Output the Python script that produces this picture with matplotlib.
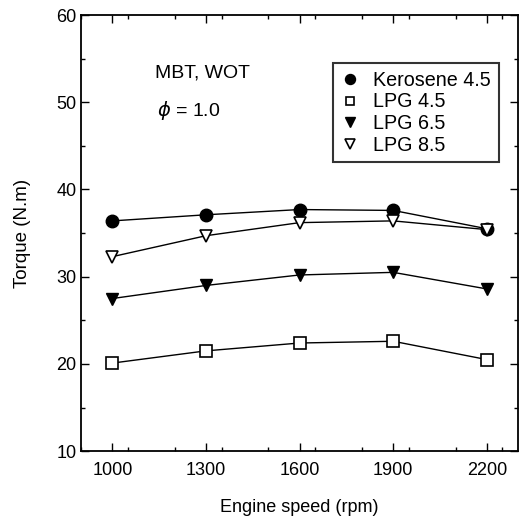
import matplotlib
matplotlib.use("Agg")
import matplotlib.pyplot as plt
from matplotlib.ticker import MultipleLocator

plt.rcParams['font.family'] = ['Liberation Sans', 'DejaVu Sans']

speed = [1000, 1300, 1600, 1900, 2200]
kerosene_45 = [36.4, 37.1, 37.7, 37.6, 35.5]
lpg_45 = [20.1, 21.5, 22.4, 22.6, 20.5]
lpg_65 = [27.5, 29.0, 30.2, 30.5, 28.6]
lpg_85 = [32.3, 34.7, 36.2, 36.4, 35.4]
labels = ["Kerosene 4.5", "LPG 4.5", "LPG 6.5", "LPG 8.5"]
xticks = [1000, 1300, 1600, 1900, 2200]
yticks = [10, 20, 30, 40, 50, 60]

fig = plt.figure(figsize=(5.27, 5.18), dpi=100)
ax = fig.add_axes([0.154, 0.129, 0.829, 0.842])

lw = 1.0
ax.plot(speed, kerosene_45, '-o', color='black', mfc='black', mec='black', ms=9, lw=lw, label=labels[0], zorder=3)
ax.plot(speed, lpg_45, '-s', color='black', mfc='white', mec='black', ms=8, mew=1.2, lw=lw, label=labels[1], zorder=3)
ax.plot(speed, lpg_65, '-v', color='black', mfc='black', mec='black', ms=9, lw=lw, label=labels[2], zorder=3)
ax.plot(speed, lpg_85, '-v', color='black', mfc='white', mec='black', ms=9, mew=1.2, lw=lw, label=labels[3], zorder=3)

ax.set_xlim(900, 2300)
ax.set_ylim(10, 60)
ax.set_xticks(xticks)
ax.set_yticks(yticks)
ax.xaxis.set_minor_locator(MultipleLocator(150))
ax.yaxis.set_minor_locator(MultipleLocator(5))
ax.tick_params(which='both', direction='in', top=True, right=True, labelsize=13)
ax.tick_params(which='major', length=6, width=1)
ax.tick_params(which='minor', length=3, width=1)
ax.tick_params(axis='x', pad=8)
for s in ax.spines.values():
    s.set_linewidth(1.3)

ax.set_xlabel("Engine speed (rpm)", fontsize=13, labelpad=14)
ax.set_ylabel("Torque (N.m)", fontsize=13.5, labelpad=18)

ax.text(0.169, 0.867, "MBT, WOT", transform=ax.transAxes, fontsize=14, va='center')
ax.text(0.174, 0.782, r"$\phi$ = 1.0", transform=ax.transAxes, fontsize=14, va='center')

leg = ax.legend(loc='upper right', bbox_to_anchor=(0.956, 0.89), frameon=True, fancybox=False,
                edgecolor='black', fontsize=14.2, handlelength=1.0, handletextpad=0.65,
                borderpad=0.4, labelspacing=0.13, borderaxespad=0, markerscale=0.8)
leg.get_frame().set_linewidth(1.5)
for h in leg.legend_handles:
    h.set_linestyle('None')

fig.savefig("out.png", dpi=100)
